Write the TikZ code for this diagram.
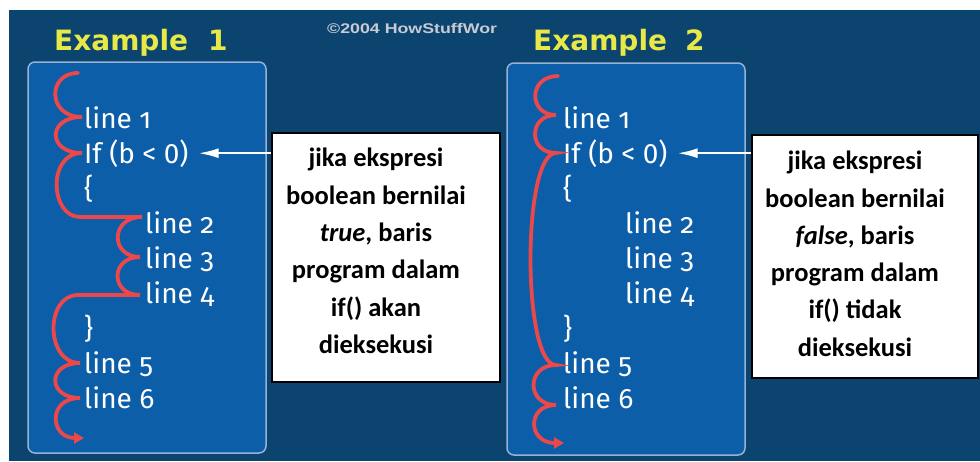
\documentclass[tikz,border=0pt]{standalone}
\usepackage{fontspec}
\setmainfont{Carlito}
\newfontfamily\codefont[Numbers=OldStyle]{Fira Sans}
\newfontfamily\codelining[Numbers=Lining]{Fira Sans}
\newfontfamily\titlefont{DejaVu Sans}
\newfontfamily\notefont{Liberation Sans}
\usetikzlibrary{arrows.meta}

\definecolor{navy}{RGB}{12,68,112}
\definecolor{panelblue}{RGB}{12,94,168}
\definecolor{panelrim}{RGB}{150,178,214}
\definecolor{titleyellow}{RGB}{232,232,70}
\definecolor{flowred}{RGB}{236,72,74}
\definecolor{notegray}{RGB}{200,202,212}

\tikzset{
  panel/.style={draw=panelrim, fill=panelblue, line width=1.5pt, rounded corners=7pt},
  title/.style={anchor=base west, inner sep=0pt, text=titleyellow,
    font=\titlefont\bfseries\fontsize{28}{28}\selectfont},
  code/.style={anchor=base west, inner sep=0pt, text=white,
    font=\codefont\fontsize{28}{28}\selectfont},
  flow/.style={draw=flowred, line width=3.8pt, line cap=round,
    -{Triangle[length=10pt,width=11pt]}},
  callout/.style={draw=black, fill=white, line width=2pt, inner sep=0pt},
  callouttext/.style={anchor=north, inner sep=0pt, align=center,
    font=\bfseries\fontsize{26.5}{37.3}\selectfont},
  pointer/.style={draw=white, line width=2pt,
    -{Latex[length=20pt,width=10pt]}}
}

\begin{document}
\begin{tikzpicture}[x=1pt,y=-1pt]
\useasboundingbox (0,0) rectangle (980,461);
\fill[white] (0,0) rectangle (980,461);
\fill[navy] (9,10) rectangle (980,461);

% copyright line
\node[anchor=base west, inner sep=0pt, text=notegray,
      font=\notefont\bfseries\fontsize{14}{14}\selectfont] (copy) at (327,33)
  {\scalebox{1.27}[1]{©2004 HowStuffWor}};

% titles
\node[title] (t1) at (54,50) {Example\hspace{20pt}1};
\node[title] (t2) at (533,50) {Example\hspace{18pt}2};

% panels
\path[panel] (28,62) rectangle (266,453);
\path[panel] (507,63) rectangle (745,455);

% code, example 1
\node[code] (a1) at (84,128) {line 1};
\node[code] (aif) at (84,163) {If (b < {\codelining 0})};
\node[code] (aob) at (84,198) {\{};
\node[code] (a2) at (145,233) {line 2};
\node[code] (a3) at (145,268) {line 3};
\node[code] (a4) at (145,303) {line 4};
\node[code] (acb) at (84,338) {\}};
\node[code] (a5) at (84,373) {line 5};
\node[code] (a6) at (84,408) {line 6};

% code, example 2
\node[code] (b1) at (563,128) {line 1};
\node[code] (bif) at (563,163) {If (b < {\codelining 0})};
\node[code] (bob) at (563,198) {\{};
\node[code] (b2) at (625,233) {line 2};
\node[code] (b3) at (625,268) {line 3};
\node[code] (b4) at (625,303) {line 4};
\node[code] (bcb) at (563,338) {\}};
\node[code] (b5) at (563,373) {line 5};
\node[code] (b6) at (563,408) {line 6};

% execution path, condition true
\draw[flow] (78,73)
  .. controls (47,73) and (47,117) .. (82,117)
  .. controls (47,117) and (47,153) .. (82,153)
  .. controls (47,153) and (50,217) .. (80,217) -- (142,217)
  .. controls (110,217) and (110,257) .. (140,257)
  .. controls (110,257) and (110,295) .. (140,295) -- (78,295)
  .. controls (45,295) and (45,363) .. (80,363)
  .. controls (47,363) and (47,398) .. (80,398)
  .. controls (47,398) and (50,438) .. (84,438);

% execution path, condition false
\draw[flow] (558,76)
  .. controls (528,76) and (528,115) .. (556,115)
  .. controls (528,115) and (528,153) .. (556,153)
  .. controls (522,153) and (522,365) .. (556,365)
  .. controls (526,365) and (526,405) .. (556,405)
  .. controls (526,405) and (528,443) .. (564,443);

% callouts
\node[callout, minimum width=228pt, minimum height=249pt] (box1) at (386,257.5) {};
\node[callouttext] (txt1) at (376,148)
  {jika ekspresi\\boolean bernilai\\\textit{true}, baris\\program dalam\\if() akan\\dieksekusi};
\node[callout, minimum width=226pt, minimum height=243pt] (box2) at (865,256.5) {};
\node[callouttext] (txt2) at (855,151)
  {jika ekspresi\\boolean bernilai\\\textit{false}, baris\\program dalam\\if() tidak\\dieksekusi};

\draw[pointer] (box1.west |- aif.east) -- ([xshift=10pt]aif.east);
\draw[pointer] (box2.west |- bif.east) -- ([xshift=10pt]bif.east);
\end{tikzpicture}
\end{document}
